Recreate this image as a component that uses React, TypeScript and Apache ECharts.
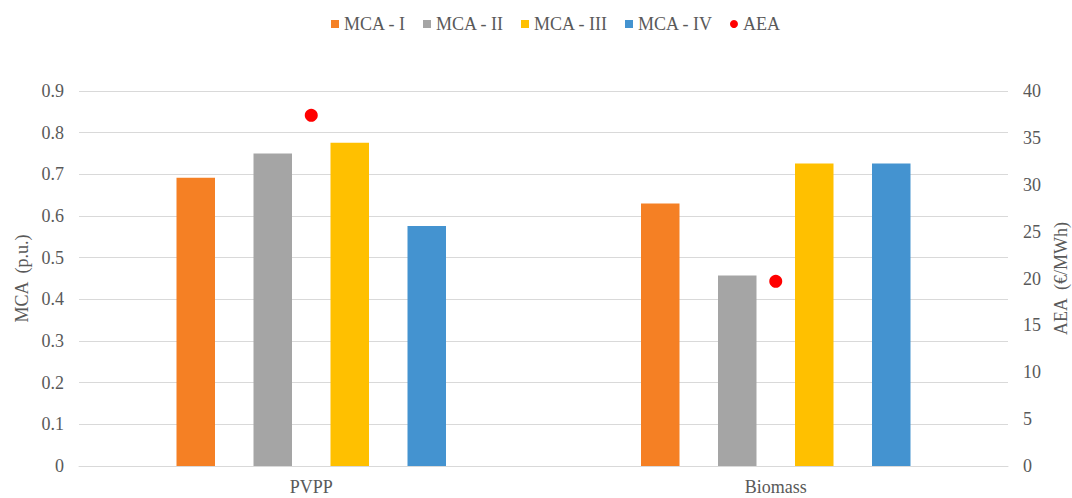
import React, { useEffect, useRef } from "react";
import * as echarts from "echarts";

const categories = ["PVPP", "Biomass"];
const mcaI = [0.692, 0.63];
const mcaII = [0.75, 0.457];
const mcaIII = [0.776, 0.726];
const mcaIV = [0.576, 0.726];
const aea = [37.4, 19.7];
const leftTicks = { min: 0, max: 0.9, interval: 0.1 };
const rightTicks = { min: 0, max: 40, interval: 5 };

const FONT = '"Times New Roman", "Liberation Serif", Times, serif';
const TXT = "#595959";

export default function App() {
  const ref = useRef<HTMLDivElement>(null);
  useEffect(() => {
    if (!ref.current) return;
    const chart = echarts.init(ref.current, null, { renderer: "svg" });
    const barCommon = {
      type: "bar",
      barWidth: 38.5,
      barGap: "100%",
      yAxisIndex: 0,
    };
    chart.setOption({
      animation: false,
      textStyle: { fontFamily: FONT, color: TXT },
      legend: {
        top: 10,
        left: 326,
        itemWidth: 8,
        itemHeight: 8,
        itemGap: 17,
        textStyle: { fontFamily: FONT, fontSize: 18, color: TXT },
        data: [
          { name: "MCA - I", icon: "rect" },
          { name: "MCA - II", icon: "rect" },
          { name: "MCA - III", icon: "rect" },
          { name: "MCA - IV", icon: "rect" },
          { name: "AEA", icon: "circle" },
        ],
      },
      grid: { left: 79, right: 64, top: 91, bottom: 32, containLabel: false, outerBoundsMode: "none" },
      xAxis: {
        type: "category",
        data: categories,
        axisLine: { lineStyle: { color: "#D9D9D9", width: 1 } },
        axisTick: { show: false },
        axisLabel: { fontFamily: FONT, fontSize: 18, color: TXT, margin: 12 },
      },
      yAxis: [
        {
          type: "value",
          ...leftTicks,
          name: "MCA  (p.u.)",
          nameLocation: "middle",
          nameGap: 46,
          nameTextStyle: { fontFamily: FONT, fontSize: 18, color: TXT },
          axisLine: { show: false },
          axisTick: { show: false },
          axisLabel: {
            fontFamily: FONT,
            fontSize: 18,
            color: TXT,
            margin: 15,
            formatter: (v: number) => (v === 0 ? "0" : String(Math.round(v * 10) / 10)),
          },
          splitLine: { lineStyle: { color: "#D9D9D9", width: 1 } },
        },
        {
          type: "value",
          ...rightTicks,
          position: "right",
          name: "AEA  (€/MWh)",
          nameLocation: "middle",
          nameGap: 43,
          nameTextStyle: { fontFamily: FONT, fontSize: 18, color: TXT },
          axisLine: { show: false },
          axisTick: { show: false },
          axisLabel: { fontFamily: FONT, fontSize: 18, color: TXT, margin: 15 },
          splitLine: { show: false },
        },
      ],
      series: [
        { ...barCommon, name: "MCA - I", data: mcaI, itemStyle: { color: "#F58024" } },
        { ...barCommon, name: "MCA - II", data: mcaII, itemStyle: { color: "#A5A5A5" } },
        { ...barCommon, name: "MCA - III", data: mcaIII, itemStyle: { color: "#FFC000" } },
        { ...barCommon, name: "MCA - IV", data: mcaIV, itemStyle: { color: "#4493D0" } },
        {
          type: "scatter",
          name: "AEA",
          yAxisIndex: 1,
          data: aea,
          symbol: "circle",
          symbolSize: 13,
          itemStyle: { color: "#FF0000", opacity: 1 },
        },
      ],
    });
    return () => chart.dispose();
  }, []);
  return (
    <div
      ref={ref}
      style={{ position: "fixed", left: 0, top: 0, width: 1072, height: 498, background: "#fff" }}
    />
  );
}
